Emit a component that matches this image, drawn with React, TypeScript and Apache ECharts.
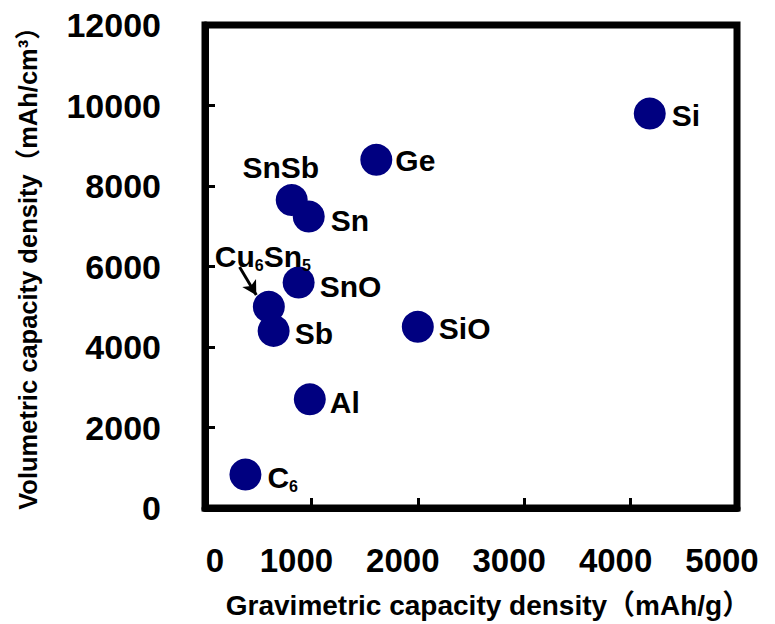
import React, { useEffect, useRef } from "react";
import * as echarts from "echarts";

const materials = ["Si", "Ge", "SnSb", "Sn", "SnO", "Cu6Sn5", "Sb", "SiO", "Al", "C6"];
const gravimetric = [4180, 1610, 815, 975, 880, 600, 645, 2000, 985, 380];
const volumetric = [9800, 8650, 7650, 7240, 5600, 5000, 4400, 4500, 2700, 830];
const xTicks = [0, 1000, 2000, 3000, 4000, 5000];
const yTicks = [0, 2000, 4000, 6000, 8000, 10000, 12000];
const arrowFrom = [325, 5990];
const arrowTo = [482, 5290];

const FONT = "'Liberation Sans', Arial, 'Noto Sans CJK JP', sans-serif";

const labelRich = {
  b: { fontFamily: FONT, fontWeight: "bold", fontSize: 30, color: "#000", lineHeight: 32 },
  s: { fontFamily: FONT, fontWeight: "bold", fontSize: 16, color: "#000", lineHeight: 16, padding: [18, 0, 0, 0] },
};

const labelText: Record<string, string> = {
  Cu6Sn5: "{b|Cu}{s|6}{b|Sn}{s|5}",
  C6: "{b|C}{s|6}",
};

const labelPlace: Record<string, any> = {
  Si: { position: "right", distance: 6, offset: [0, 2] },
  Ge: { position: "right", distance: 3, offset: [0, 1] },
  SnSb: { position: "top", distance: 1, offset: [-11, 0] },
  Sn: { position: "right", distance: 6, offset: [0, 4] },
  SnO: { position: "right", distance: 5, offset: [0, 4] },
  Cu6Sn5: { position: "top", distance: 18, offset: [-6, 0] },
  Sb: { position: "right", distance: 5, offset: [0, 3] },
  SiO: { position: "right", distance: 5, offset: [0, 2] },
  Al: { position: "right", distance: 4, offset: [0, 3] },
  C6: { position: "right", distance: 6, offset: [0, 3] },
};

export default function App() {
  const ref = useRef<HTMLDivElement>(null);
  useEffect(() => {
    if (!ref.current) return;
    const chart = echarts.init(ref.current, null, { renderer: "svg" });
    const data = materials.map((m, i) => ({
      name: m,
      value: [gravimetric[i], volumetric[i]],
      label: {
        show: true,
        formatter: labelText[m] || `{b|${m}}`,
        rich: labelRich,
        ...labelPlace[m],
      },
    }));
    chart.setOption({
      animation: false,
      backgroundColor: "#fff",
      grid: {
        left: 205,
        right: 38,
        top: 25,
        bottom: 116,
        show: true,
        borderColor: "#000",
        borderWidth: 7,
      },
      xAxis: {
        type: "value",
        min: xTicks[0],
        max: xTicks[xTicks.length - 1],
        interval: 1000,
        axisLine: { show: true, lineStyle: { color: "#000", width: 7 } },
        axisTick: { show: true, inside: true, length: 10, lineStyle: { color: "#000", width: 3 } },
        splitLine: { show: false },
        axisLabel: {
          margin: 36,
          formatter: (v: number) => (v === 0 ? `{z|${v}}` : `{n|${v}}`),
          rich: {
            z: { fontFamily: FONT, fontWeight: "bold", fontSize: 33, color: "#000", padding: [0, 0, 0, 20] },
            n: { fontFamily: FONT, fontWeight: "bold", fontSize: 33, color: "#000", padding: [0, 30, 0, 0] },
          },
        },
      },
      yAxis: {
        type: "value",
        min: yTicks[0],
        max: yTicks[yTicks.length - 1],
        interval: 2000,
        axisLine: { show: true, lineStyle: { color: "#000", width: 7 } },
        axisTick: { show: true, inside: true, length: 10, lineStyle: { color: "#000", width: 3 } },
        splitLine: { show: false },
        axisLabel: {
          margin: 44,
          formatter: (v: number) => String(v),
          fontFamily: FONT,
          fontWeight: "bold",
          fontSize: 34,
          color: "#000",
        },
      },
      graphic: [
        {
          type: "text",
          x: 488,
          y: 605,
          style: {
            text: "Gravimetric capacity density（mAh/g）",
            fontFamily: FONT,
            fontWeight: "bold",
            fontSize: 28,
            fill: "#000",
            textAlign: "center",
            textVerticalAlign: "middle",
          },
        },
        {
          type: "text",
          x: 28,
          y: 262,
          rotation: Math.PI / 2,
          style: {
            text: "Volumetric capacity density（mAh/cm³）",
            fontFamily: FONT,
            fontWeight: "bold",
            fontSize: 25.5,
            fill: "#000",
            textAlign: "center",
            textVerticalAlign: "middle",
          },
        },
      ],
      series: [
        {
          type: "scatter",
          symbol: "circle",
          symbolSize: 32,
          itemStyle: { color: "#000080", opacity: 1 },
          data,
          markLine: {
            silent: true,
            symbol: ["none", "arrow"],
            symbolSize: [12, 14],
            label: { show: false },
            lineStyle: { color: "#000", width: 3, type: "solid" },
            data: [[{ coord: arrowFrom }, { coord: arrowTo }]],
          },
        },
      ],
    });
    return () => chart.dispose();
  }, []);
  return (
    <div
      ref={ref}
      style={{ position: "fixed", left: 0, top: 0, width: 775, height: 624, background: "#fff" }}
    />
  );
}
